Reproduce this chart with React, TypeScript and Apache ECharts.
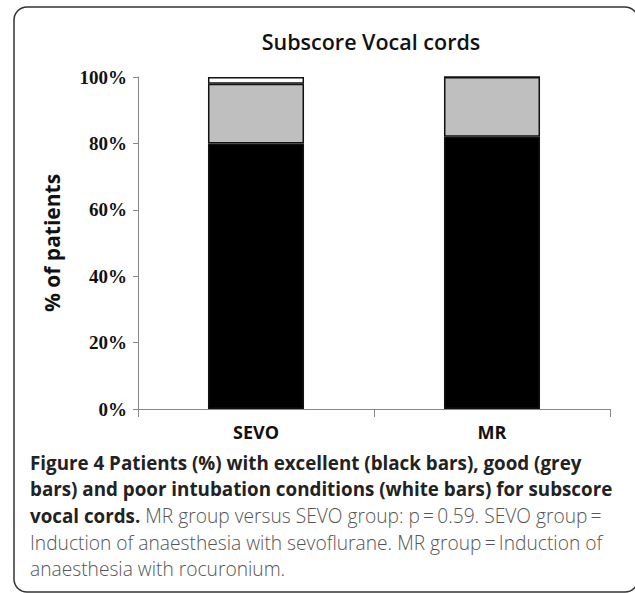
import React, { useEffect, useRef } from "react";
import * as echarts from "echarts";

const categories = ["SEVO", "MR"];
const excellent = [80, 82];
const good = [18, 18];
const poor = [2, 0];
const yTicks = { min: 0, max: 100, interval: 20 };

const titleText = "Subscore Vocal cords";
const yName = "% of patients";
const captionLines = [
  "Figure 4 Patients (%) with excellent (black bars), good (grey",
  "bars) and poor intubation conditions (white bars) for subscore",
];
const captionLine3Bold = "vocal cords.";
const captionLine3Rest = " MR group versus SEVO group: p\u2009=\u20090.59. SEVO group\u2009=";
const captionLine4 = "Induction of anaesthesia with sevoflurane. MR group\u2009=\u2009Induction of";
const captionLine5 = "anaesthesia with rocuronium.";

export default function App() {
  const ref = useRef<HTMLDivElement>(null);
  useEffect(() => {
    if (!ref.current) return;
    const chart = echarts.init(ref.current, null, { renderer: "svg" });
    const sans = "'Open Sans', 'Noto Sans', sans-serif";
    const serif = "'Liberation Serif', 'DejaVu Serif', serif";
    const boldSize = 18.8;
    const regSize = 19.2;
    const barCommon = {
      type: "bar" as const,
      stack: "total",
      barWidth: "40.7%",
      itemStyle: { borderColor: "#111", borderWidth: 1.5 },
    };
    chart.setOption({
      animation: false,
      backgroundColor: "#ffffff",
      title: {
        text: titleText,
        left: 366,
        top: 25,
        textAlign: "center",
        textStyle: { fontFamily: sans, fontSize: 21.5, fontWeight: 600, color: "#111" },
      },
      grid: { left: 138, right: 25, top: 77, bottom: 184 },
      xAxis: {
        type: "category",
        data: categories,
        axisLine: { lineStyle: { color: "#888", width: 1 } },
        axisTick: { show: true, alignWithLabel: false, length: 8, lineStyle: { color: "#888" } },
        axisLabel: { margin: 14, fontFamily: sans, fontSize: 18, fontWeight: "bold", color: "#111" },
      },
      yAxis: {
        type: "value",
        min: yTicks.min,
        max: yTicks.max,
        interval: yTicks.interval,
        name: yName,
        nameLocation: "middle",
        nameGap: 76,
        nameRotate: 90,
        nameTextStyle: { fontFamily: sans, fontSize: 21, fontWeight: "bold", color: "#111" },
        axisLine: { show: true, lineStyle: { color: "#888", width: 1 } },
        axisTick: { show: true, length: 5, lineStyle: { color: "#888" } },
        splitLine: { show: false },
        axisLabel: {
          formatter: "{value}%",
          margin: 11,
          fontFamily: serif,
          fontSize: 19,
          fontWeight: "bold",
          color: "#111",
        },
      },
      series: [
        { ...barCommon, name: "excellent", data: excellent, itemStyle: { ...barCommon.itemStyle, color: "#000" } },
        { ...barCommon, name: "good", data: good, itemStyle: { ...barCommon.itemStyle, color: "#bfbfbf" } },
        { ...barCommon, name: "poor", data: poor, itemStyle: { ...barCommon.itemStyle, color: "#fff" } },
      ],
      graphic: [
        {
          type: "rect",
          shape: { x: 14, y: 7, width: 624, height: 585, r: 13 },
          style: { fill: "none", stroke: "#333", lineWidth: 1.5 },
          silent: true,
        },
        {
          type: "text",
          left: 30,
          top: 466 - 13,
          style: { text: captionLines[0], fontFamily: sans, fontSize: boldSize, fontWeight: 700, fill: "#222" },
        },
        {
          type: "text",
          left: 30,
          top: 492 - 13,
          style: { text: captionLines[1], fontFamily: sans, fontSize: boldSize, fontWeight: 700, fill: "#222" },
        },
        {
          type: "text",
          left: 30,
          top: 519 - 13,
          style: {
            text: "{b|" + captionLine3Bold + "}{r|" + captionLine3Rest + "}",
            rich: {
              b: { fontFamily: sans, fontSize: boldSize, fontWeight: 700, fill: "#222" },
              r: { fontFamily: sans, fontSize: regSize, fontWeight: 300, fill: "#555" },
            },
          },
        },
        {
          type: "text",
          left: 30,
          top: 546 - 13,
          style: { text: captionLine4, fontFamily: sans, fontSize: regSize, fontWeight: 300, fill: "#555" },
        },
        {
          type: "text",
          left: 30,
          top: 572 - 13,
          style: { text: captionLine5, fontFamily: sans, fontSize: regSize, fontWeight: 300, fill: "#555" },
        },
      ],
    });
    return () => chart.dispose();
  }, []);
  return (
    <div
      ref={ref}
      style={{ position: "fixed", left: 0, top: 0, width: 635, height: 593, background: "#fff" }}
    />
  );
}
